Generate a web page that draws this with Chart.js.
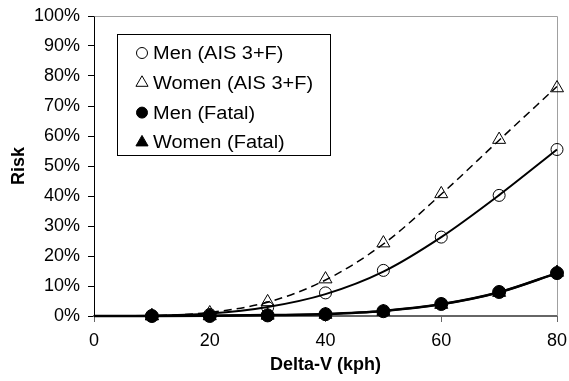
<!DOCTYPE html>
<html>
<head>
<meta charset="utf-8">
<script src="https://cdn.jsdelivr.net/npm/chart.js@4/dist/chart.umd.min.js"></script>
<style>
  html, body { margin: 0; padding: 0; background: #fff; }
  #wrap { width: 569px; height: 381px; position: relative; }
</style>
</head>
<body>
<div id="wrap"><canvas id="riskChart"></canvas></div>
<script>
// measured points (delta-V in kph, risk in %)
var speeds     = [10, 20, 30, 40, 50, 60, 70, 80];
var menAis     = [0, 0.5, 2.8, 7.7, 15.2, 26.3, 40.2, 55.5];
var womenAis   = [0, 1.0, 4.7, 12.3, 24.3, 40.7, 58.8, 76];
var menFatal   = [0, 0, 0.2, 0.6, 1.6, 4.0, 8.0, 14.3];
var womenFatal = [0, 0, 0.2, 0.5, 1.5, 3.8, 7.8, 14.5];

// fitted risk curves
var fitSpeeds   = [0, 10, 20, 30, 40, 50, 60, 70, 80];
var menAisFit   = [0, 0.1, 0.8, 3.0, 7.3, 14.8, 26.3, 40.3, 55.5];
var womenAisFit = [0, 0.1, 1.2, 4.6, 12.0, 24.0, 40.6, 58.6, 76.5];
var fatalFit    = [0, 0, 0.1, 0.3, 0.7, 1.7, 3.9, 7.9, 14.3];

var yTicks = [0, 10, 20, 30, 40, 50, 60, 70, 80, 90, 100];
var xTicks = [0, 20, 40, 60, 80];

var FONT = "'Liberation Sans', Arial, sans-serif";

function pts(xs, ys) {
  return xs.map(function (x, i) { return { x: x, y: ys[i] }; });
}

function markerSet(label, data, style, filled, radius) {
  return {
    label: label,
    data: pts(speeds, data),
    showLine: false,
    pointStyle: style,
    pointRadius: radius,
    pointBorderWidth: 1,
    pointBorderColor: '#000',
    pointBackgroundColor: filled ? '#000' : 'rgba(0,0,0,0)',
    filled: filled,
    clip: false
  };
}

function fitSet(data, width, dash) {
  return {
    label: 'fit',
    data: pts(fitSpeeds, data),
    showLine: true,
    borderColor: '#000',
    borderWidth: width,
    borderDash: dash || [],
    pointRadius: 0,
    cubicInterpolationMode: 'monotone',
    clip: false
  };
}

// light frame on the top and right of the plot area
var plotFrame = {
  id: 'plotFrame',
  beforeDatasetsDraw: function (chart) {
    var a = chart.chartArea, ctx = chart.ctx;
    ctx.save();
    ctx.strokeStyle = '#a0a0a0';
    ctx.lineWidth = 1;
    ctx.beginPath();
    ctx.moveTo(Math.round(a.left) + 0.5, Math.round(a.top) + 0.5);
    ctx.lineTo(Math.round(a.right) + 0.5, Math.round(a.top) + 0.5);
    ctx.lineTo(Math.round(a.right) + 0.5, Math.round(a.bottom));
    ctx.stroke();
    ctx.restore();
  }
};

// boxed legend inside the plot
var boxLegend = {
  id: 'boxLegend',
  afterDraw: function (chart) {
    var ctx = chart.ctx;
    var items = chart.data.datasets.filter(function (d) { return d.showLine === false; });
    ctx.save();
    ctx.fillStyle = '#fff';
    ctx.fillRect(117, 34, 214, 122);
    ctx.strokeStyle = '#000';
    ctx.lineWidth = 1;
    ctx.strokeRect(117.5, 34.5, 213, 121);

    items.forEach(function (d, i) {
      var cy = 53 + i * 29.8;
      var cx = 142;
      ctx.beginPath();
      if (d.pointStyle === 'circle') {
        ctx.arc(cx, cy, 5.5, 0, Math.PI * 2);
      } else {
        var r = 7;
        ctx.moveTo(cx, cy - r);
        ctx.lineTo(cx + r * 0.866, cy + r * 0.5);
        ctx.lineTo(cx - r * 0.866, cy + r * 0.5);
        ctx.closePath();
      }
      if (d.filled) { ctx.fillStyle = '#000'; ctx.fill(); }
      ctx.strokeStyle = '#000';
      ctx.lineWidth = 1;
      ctx.stroke();

      ctx.save();
      ctx.translate(153, cy);
      ctx.scale(1.11, 1);
      ctx.fillStyle = '#000';
      ctx.font = '18px ' + FONT;
      ctx.textBaseline = 'middle';
      ctx.textAlign = 'left';
      ctx.fillText(d.label, 0, 1);
      ctx.restore();
    });
    ctx.restore();
  }
};

new Chart(document.getElementById('riskChart').getContext('2d'), {
  type: 'scatter',
  data: {
    datasets: [
      markerSet('Men (AIS 3+F)', menAis, 'circle', false, 6),
      markerSet('Women (AIS 3+F)', womenAis, 'triangle', false, 7.5),
      markerSet('Men (Fatal)', menFatal, 'circle', true, 6.5),
      markerSet('Women (Fatal)', womenFatal, 'triangle', true, 7.5),
      fitSet(menAisFit, 2),
      fitSet(womenAisFit, 1.5, [8, 5]),
      fitSet(fatalFit, 2.5),
      fitSet(fatalFit, 2)
    ]
  },
  plugins: [plotFrame, boxLegend],
  options: {
    responsive: true,
    maintainAspectRatio: false,
    animation: false,
    layout: { padding: { top: 16, right: 12, left: 0, bottom: 0 } },
    plugins: {
      legend: { display: false },
      tooltip: { enabled: false }
    },
    scales: {
      x: {
        type: 'linear',
        min: 0,
        max: 80,
        afterBuildTicks: function (scale) {
          scale.ticks = xTicks.map(function (v) { return { value: v }; });
        },
        afterFit: function (scale) {
          scale.height = 65;
          scale.paddingLeft = 0;
          scale.paddingRight = 0;
        },
        grid: { drawOnChartArea: false, drawTicks: true, tickLength: 6, color: '#666', lineWidth: 1 },
        border: { display: true, color: '#666', width: 2 },
        ticks: { color: '#000', padding: 8, maxRotation: 0, font: { family: FONT, size: 18 } },
        title: {
          display: true,
          text: 'Delta-V (kph)',
          color: '#000',
          padding: { top: 0, bottom: 5 },
          font: { family: FONT, size: 18, weight: 'bold' }
        }
      },
      y: {
        min: 0,
        max: 100,
        afterBuildTicks: function (scale) {
          scale.ticks = yTicks.map(function (v) { return { value: v }; });
        },
        afterFit: function (scale) {
          scale.width = 94;
          scale.paddingTop = 0;
          scale.paddingBottom = 0;
        },
        grid: { drawOnChartArea: false, drawTicks: true, tickLength: 6, color: '#000', lineWidth: 1 },
        border: { display: true, color: '#000', width: 1 },
        ticks: {
          color: '#000',
          padding: 8,
          font: { family: FONT, size: 18 },
          callback: function (v) { return v + '%'; }
        },
        title: {
          display: true,
          text: 'Risk',
          color: '#000',
          padding: { top: 8, bottom: 0 },
          font: { family: FONT, size: 18, weight: 'bold' }
        }
      }
    }
  }
});
</script>
</body>
</html>
